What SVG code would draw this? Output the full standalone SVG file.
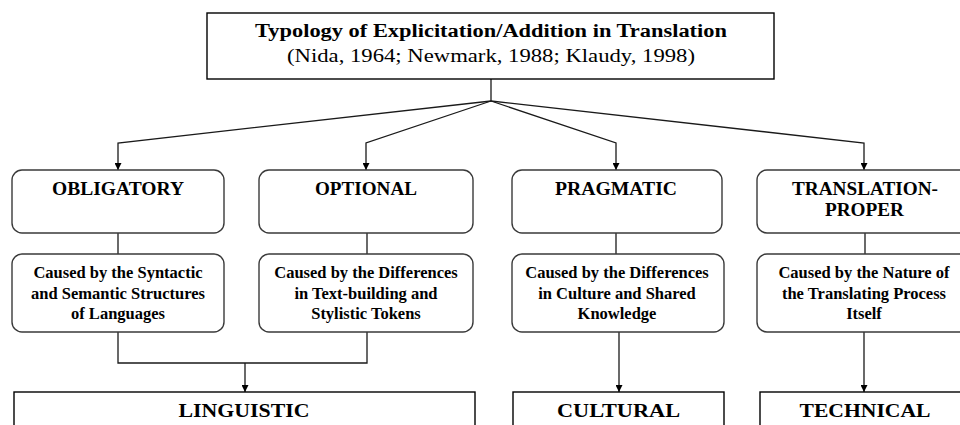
<svg xmlns="http://www.w3.org/2000/svg" width="960" height="425" viewBox="0 0 960 425">
  <style>
    .box { fill: #ffffff; stroke: #000000; stroke-width: 1.4; }
    .rbox { fill: #ffffff; stroke: #3a3a3a; stroke-width: 1.4; }
    .link { fill: none; stroke: #1a1a1a; stroke-width: 1.3; }
    text { fill: #000000; text-anchor: middle; }
    .head { font-weight: bold; font-size: 18.5px; }
    .cite { font-size: 18.5px; }
    .cap { font-weight: bold; font-size: 18.5px; }
    .desc { font-weight: bold; font-size: 16.5px; }
    .type { font-weight: bold; font-size: 19.5px; }
  </style>
  <defs>
    <marker id="arrow" viewBox="0 0 10 10" refX="10" refY="5" markerWidth="7" markerHeight="7" markerUnits="userSpaceOnUse" orient="auto">
      <path d="M0,0 L10,5 L0,10 Z" fill="#000000"/>
    </marker>
  </defs>

  <rect width="960" height="425" fill="#ffffff"/>

  <!-- connectors -->
  <g id="connectors">
    <line class="link" x1="491" y1="79" x2="491" y2="101"/>
    <polyline class="link" points="491,101 118,143 118,170" marker-end="url(#arrow)"/>
    <polyline class="link" points="491,101 366,143 366,170" marker-end="url(#arrow)"/>
    <polyline class="link" points="491,101 616,143 616,170" marker-end="url(#arrow)"/>
    <polyline class="link" points="491,101 864,143 864,170" marker-end="url(#arrow)"/>

    <line class="link" x1="118" y1="233" x2="118" y2="254"/>
    <line class="link" x1="367" y1="233" x2="367" y2="254"/>
    <line class="link" x1="616" y1="233" x2="616" y2="254"/>
    <line class="link" x1="865" y1="233" x2="865" y2="254"/>

    <polyline class="link" points="118,332 118,363 367,363 367,332"/>
    <line class="link" x1="245" y1="363" x2="245" y2="392" marker-end="url(#arrow)"/>
    <line class="link" x1="619" y1="332" x2="619" y2="392" marker-end="url(#arrow)"/>
    <line class="link" x1="864" y1="332" x2="864" y2="392" marker-end="url(#arrow)"/>
  </g>

  <g font-family="'Liberation Serif', 'Times New Roman', 'DejaVu Serif', serif">
  <!-- root -->
  <g id="typology">
    <rect class="box" x="207" y="13" width="567" height="66"/>
    <text class="head" x="491" y="37" textLength="472" lengthAdjust="spacingAndGlyphs">Typology of Explicitation/Addition in Translation</text>
    <text class="cite" x="491" y="62" textLength="408" lengthAdjust="spacingAndGlyphs">(Nida, 1964; Newmark, 1988; Klaudy, 1998)</text>
  </g>

  <!-- first level -->
  <g id="obligatory">
    <rect class="rbox" x="12" y="170" width="212" height="63" rx="10"/>
    <text class="cap" x="118" y="195" textLength="132" lengthAdjust="spacingAndGlyphs">OBLIGATORY</text>
  </g>
  <g id="optional">
    <rect class="rbox" x="259" y="170" width="214" height="63" rx="10"/>
    <text class="cap" x="366" y="195" textLength="102" lengthAdjust="spacingAndGlyphs">OPTIONAL</text>
  </g>
  <g id="pragmatic">
    <rect class="rbox" x="512" y="170" width="210" height="63" rx="10"/>
    <text class="cap" x="616" y="195" textLength="122" lengthAdjust="spacingAndGlyphs">PRAGMATIC</text>
  </g>
  <g id="translation-proper">
    <rect class="rbox" x="757" y="170" width="212" height="63" rx="10"/>
    <text class="cap" x="865" y="195" textLength="146" lengthAdjust="spacingAndGlyphs">TRANSLATION-</text>
    <text class="cap" x="864.5" y="216" textLength="79" lengthAdjust="spacingAndGlyphs">PROPER</text>
  </g>

  <!-- causes -->
  <g id="cause-obligatory">
    <rect class="rbox" x="12" y="254" width="212" height="78" rx="10"/>
    <text class="desc" x="118" y="278">Caused by the Syntactic</text>
    <text class="desc" x="118" y="299">and Semantic Structures</text>
    <text class="desc" x="118" y="319">of Languages</text>
  </g>
  <g id="cause-optional">
    <rect class="rbox" x="259" y="254" width="214" height="78" rx="10"/>
    <text class="desc" x="366" y="278">Caused by the Differences</text>
    <text class="desc" x="366" y="299">in Text-building and</text>
    <text class="desc" x="366" y="319">Stylistic Tokens</text>
  </g>
  <g id="cause-pragmatic">
    <rect class="rbox" x="512" y="254" width="212" height="78" rx="10"/>
    <text class="desc" x="617" y="278">Caused by the Differences</text>
    <text class="desc" x="617" y="299">in Culture and Shared</text>
    <text class="desc" x="617" y="319">Knowledge</text>
  </g>
  <g id="cause-translation">
    <rect class="rbox" x="757" y="254" width="212" height="78" rx="10"/>
    <text class="desc" x="864" y="278">Caused by the Nature of</text>
    <text class="desc" x="864" y="299">the Translating Process</text>
    <text class="desc" x="864" y="319">Itself</text>
  </g>

  <!-- resulting types -->
  <g id="linguistic">
    <rect class="box" x="14" y="392" width="461" height="50"/>
    <text class="type" x="244" y="417" textLength="131" lengthAdjust="spacingAndGlyphs">LINGUISTIC</text>
  </g>
  <g id="cultural">
    <rect class="box" x="513" y="392" width="211" height="50"/>
    <text class="type" x="618.5" y="417" textLength="123" lengthAdjust="spacingAndGlyphs">CULTURAL</text>
  </g>
  <g id="technical">
    <rect class="box" x="760" y="392" width="212" height="50"/>
    <text class="type" x="865" y="417" textLength="131" lengthAdjust="spacingAndGlyphs">TECHNICAL</text>
  </g>
  </g>
</svg>
